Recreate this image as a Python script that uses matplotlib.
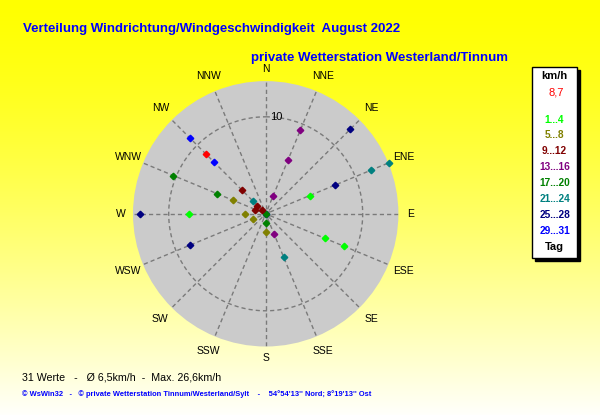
import numpy as np
import matplotlib
matplotlib.use("Agg")
import matplotlib.pyplot as plt
from matplotlib.patches import Rectangle

# ---------------- data ----------------
compass = ["N", "NNE", "NE", "ENE", "E", "ESE", "SE", "SSE",
           "S", "SSW", "SW", "WSW", "W", "WNW", "NW", "NNW"]

# one entry per day of August 2022 (direction, mean speed km/h)
day_dir = ["ENE", "W", "ESE", "ESE",          # 1..4
           "WNW", "W", "WSW", "S",            # 5..8
           "NW", "NW", "WNW", "NW",           # 9..12
           "NNE", "NNE", "NNE", "SSE",        # 13..16
           "WNW", "WNW", "N", "S",            # 17..20
           "ENE", "ENE", "NW", "SSE",         # 21..24
           "NE", "ENE", "W", "WSW",           # 25..28
           "NW", "NW", "N"]                   # 29..31
day_speed = [4.9, 7.9, 6.6, 8.7,
             3.6, 2.1, 1.4, 1.9,
             3.4, 1.2, 1.15, 0.5,
             9.3, 6.0, 2.0, 2.2,
             10.3, 5.4, 0.0, 1.0,
             13.8, 11.7, 1.8, 4.8,
             12.3, 7.7, 13.0, 8.5,
             11.0, 7.5, 0.0]

group_labels = ["1...4", "5...8", "9...12", "13...16",
                "17...20", "21...24", "25...28", "29...31"]
group_colors = ["#00FF00", "#808000", "#800000", "#800080",
                "#008000", "#008080", "#000080", "#0000FF"]

mean_dir = "NW"
mean_speed = 8.7
mean_label = "8,7"
ring_values = [10]

title1 = "Verteilung Windrichtung/Windgeschwindigkeit  August 2022"
title2 = "private Wetterstation Westerland/Tinnum"
stats_line = "31 Werte   -   Ø 6,5km/h  -  Max. 26,6km/h"
copy_line = ("© WsWin32   -   © private Wetterstation Tinnum/Westerland/Sylt    -    "
             "54°54'13'' Nord; 8°19'13'' Ost")

# ---------------- figure ----------------
W, H = 600, 415
fig = plt.figure(figsize=(W / 100, H / 100), dpi=100)
plt.rcParams['font.family'] = ['Liberation Sans', 'DejaVu Sans']

def fx(x):
    return x / W

def fy(y):
    return 1 - y / H

# background gradient
bg = fig.add_axes([0, 0, 1, 1], zorder=-10)
t = np.linspace(0, 1, 256)[:, None]
blue = (t ** 1.4)
img = np.dstack([np.ones_like(t), np.ones_like(t), blue * 0.985])
img = np.repeat(img, 2, axis=1)
bg.imshow(img, aspect='auto', extent=[0, 1, 0, 1])
bg.set_axis_off()

# polar axes
cx, cy, R = 265.7, 213.8, 132.7
px_per_unit = 9.7
rmax = R / px_per_unit
ax = fig.add_axes([fx(cx - R), fy(cy + R), 2 * R / W, 2 * R / H], projection='polar')
ax.set_theta_zero_location('N')
ax.set_theta_direction(-1)
ax.set_ylim(0, rmax)
ax.set_facecolor('#CBCBCB')
ax.spines['polar'].set_visible(False)
ax.set_xticks([])
ax.set_yticks([])
ax.grid(False)

angles = {c: np.deg2rad(i * 22.5) for i, c in enumerate(compass)}

gcol = '#7A7A7A'
for c in compass:
    a = angles[c]
    ax.plot([a, a], [0.5, rmax], color=gcol, lw=1.0, ls=(0, (3, 2.2)), zorder=1)
tt = np.linspace(0, 2 * np.pi, 400)
for rv in ring_values:
    ax.plot(tt, np.full_like(tt, rv), color=gcol, lw=1.0, ls=(0, (3, 2.2)), zorder=1)
    ax.annotate(str(rv), xy=(0, rv), xytext=(3, 0), textcoords='offset points',
                ha='left', va='center', fontsize=8, color='black', zorder=3)

# compass labels
for c in compass:
    rpx = 144.5 if len(c) == 1 else 149
    ax.text(angles[c], rpx / px_per_unit, c, ha='center', va='center',
            fontsize=7.5, color='black', clip_on=False)

# calm marker at centre
ax.plot([0], [0], marker='s', ms=4.5, color='#8C8C8C', zorder=2, clip_on=False)

# daily points (later days drawn underneath earlier ones)
n = len(day_dir)
for d, (dr, sp) in enumerate(zip(day_dir, day_speed)):
    col = group_colors[d // 4]
    ax.plot(angles[dr], sp, marker='D', ms=3.3, color=col, mec=col,
            zorder=4 + (n - d) * 0.01, clip_on=False)
ax.plot(angles[mean_dir], mean_speed, marker='D', ms=3.3, color='#FF0000',
        mec='#FF0000', zorder=5)

# titles
fig.text(fx(23), fy(29), title1, color='#0000FF', fontsize=9.55, fontweight='bold',
         ha='left', va='center')
fig.text(fx(251), fy(57.5), title2, color='#0000FF', fontsize=9.55, fontweight='bold',
         ha='left', va='center')

# bottom text
fig.text(fx(21.5), fy(377), stats_line, color='black', fontsize=7.65, ha='left', va='center')
fig.text(fx(21.5), fy(394), copy_line, color='#0000FF', fontsize=5.45, fontweight='bold',
         ha='left', va='center')

# legend box
lx0, lx1, ly0, ly1 = 531.7, 577.3, 66.7, 258.3
sh = 3
fig.patches.append(Rectangle((fx(lx0 + sh), fy(ly1 + sh)), (lx1 - lx0) / W, (ly1 - ly0) / H,
                             transform=fig.transFigure, facecolor='black', edgecolor='black',
                             zorder=1))
fig.patches.append(Rectangle((fx(lx0), fy(ly1)), (lx1 - lx0) / W, (ly1 - ly0) / H,
                             transform=fig.transFigure, facecolor='white', edgecolor='black',
                             lw=1.0, zorder=2))
lxc = 554.5
fig.text(fx(lxc), fy(76), "km/h", color='black', fontsize=8, fontweight='bold',
         ha='center', va='center', zorder=3)
fig.text(fx(556.5), fy(92.3), mean_label, color='#FF0000', fontsize=8,
         ha='center', va='center', zorder=3)
leg_y = [120, 134.5, 150.5, 167, 183, 198.7, 214.7, 230.7]
for lab, col, yy in zip(group_labels, group_colors, leg_y):
    fig.text(fx(lxc), fy(yy), lab, color=col, fontsize=7.3, fontweight='bold',
             ha='center', va='center', zorder=3)
fig.text(fx(lxc), fy(247.3), "Tag", color='black', fontsize=8, fontweight='bold',
         ha='center', va='center', zorder=3)

fig.savefig("out.png", dpi=100)
